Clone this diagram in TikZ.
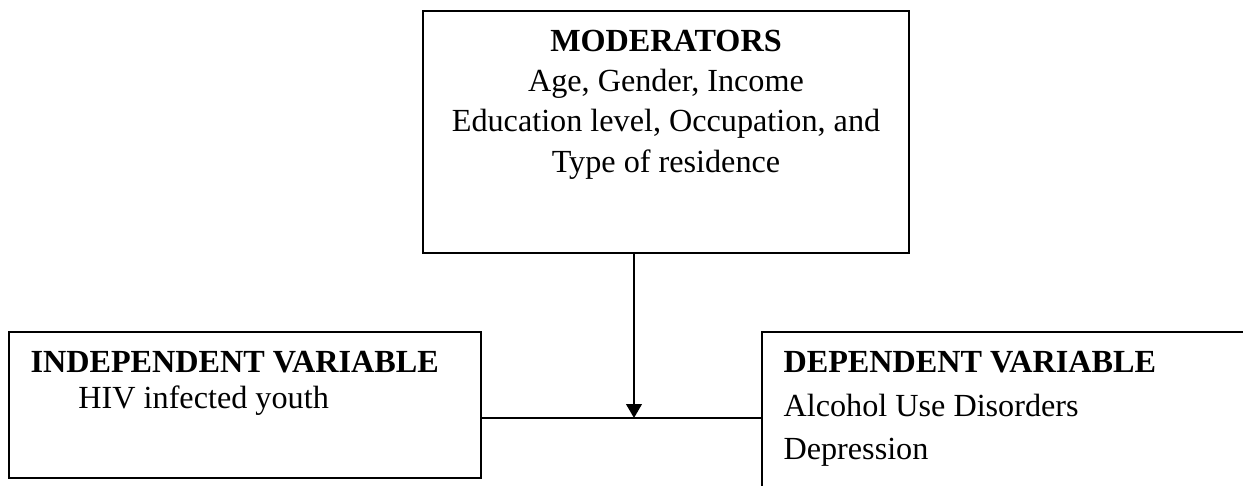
\documentclass[tikz,border=0pt]{standalone}
\usepackage{fontspec}
\setmainfont{Liberation Serif}
\usetikzlibrary{arrows.meta,positioning}
\newcommand{\pxu}{0.3571pt}
\begin{document}
\begin{tikzpicture}[x=0.3571pt, y=-0.3571pt,
		box/.style={draw, line width=0.7pt, inner sep=0pt},
		txt/.style={inner sep=0pt, font=\fontsize{11.5}{14.3}\selectfont}]
		\useasboundingbox (0,0) rectangle (1243,485);
		\clip (0,0) rectangle (1243,485);

		\node[box, minimum width=486*\pxu, minimum height=242*\pxu] (mod) at (666,132) {};
		\node[box, minimum width=472*\pxu, minimum height=146*\pxu] (iv) at (245,405) {};
		\node[box, minimum width=700*\pxu, minimum height=200*\pxu] (dv) at (1112,432) {};

		\node[txt, anchor=north, align=center] (modtxt) at (666,30)
			{\textbf{MODERATORS}\\Age, Gender, Income\\Education level, Occupation, and\\Type of residence};
		\node[txt, anchor=north west, align=left, font=\fontsize{11.5}{12.9}\selectfont] (ivtxt) at (30,351)
			{\textbf{INDEPENDENT VARIABLE}\\\hspace*{17.1pt}HIV infected youth};
		\node[txt, anchor=north west, align=left, font=\fontsize{11.5}{15.5}\selectfont] (dvtxt) at (783,351)
			{\textbf{DEPENDENT VARIABLE}\\Alcohol Use Disorders\\Depression};

		\coordinate (hit) at (634,418);
		\draw[line width=0.7pt] (iv.east |- hit) -- (dv.west |- hit);
		\draw[line width=0.7pt, -{Triangle[width=5.6pt, length=5pt]}] (mod.south -| hit) -- (hit);
	\end{tikzpicture}
\end{document}
